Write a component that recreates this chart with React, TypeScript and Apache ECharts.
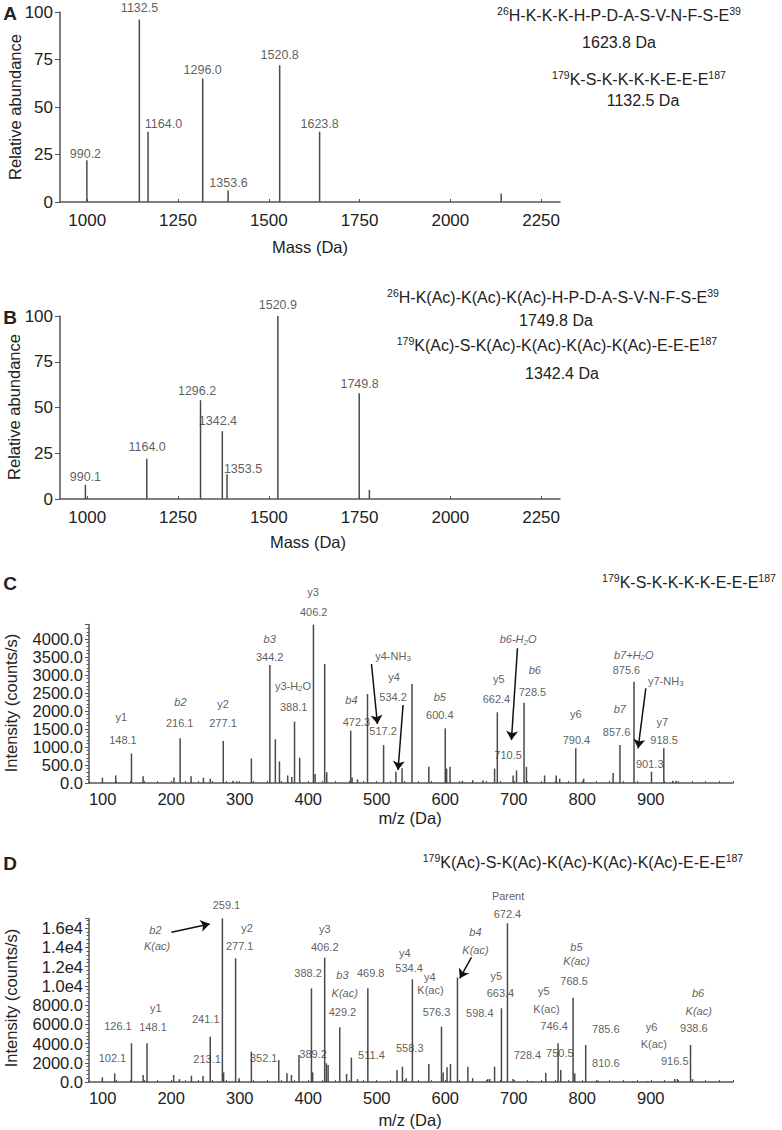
import React, { useEffect, useRef } from 'react';
import * as echarts from 'echarts';

const FONT = '"Liberation Sans", Arial, Helvetica, sans-serif';
const INK = '#222';
const PEAK = '#4a4a4a';
const AXIS = '#555';

// ---------- tick labels ----------
const massTicks = [1000, 1250, 1500, 1750, 2000, 2250];
const abundanceTicks = [0, 25, 50, 75, 100];
const mzTicks = [100, 200, 300, 400, 500, 600, 700, 800, 900];
const intensityTicksC = [0, 500, 1000, 1500, 2000, 2500, 3000, 3500, 4000];
const intensityTicksD = [0, 2000, 4000, 6000, 8000, 10000, 12000, 14000, 16000];

// ---------- Panel A (intact peptides) ----------
const massA = [999, 1143.5, 1167.5, 1318, 1388, 1530, 1640, 2140];
const abundA = [22, 96, 37, 65, 6, 72, 37, 4.5];
const labelsA: [string, number, number][] = [
  ['990.2', 995, 25.3], ['1132.5', 1144, 102], ['1164.0', 1210, 41], ['1296.0', 1318, 69.5],
  ['1353.6', 1389, 9.8], ['1520.8', 1530, 77.4], ['1623.8', 1640, 41],
];

// ---------- Panel B (acetylated) ----------
const massB = [995, 1164, 1312, 1372, 1385, 1525, 1749, 1777];
const abundB = [7.7, 22, 54, 37, 13.5, 100, 57.8, 5];
const labelsB: [string, number, number][] = [
  ['990.1', 995, 12.2], ['1164.0', 1165, 28.6], ['1296.2', 1302.5, 59], ['1342.4', 1360, 42.4],
  ['1353.5', 1429, 16.2], ['1520.9', 1525, 106], ['1749.8', 1750, 62.7],
];

// ---------- Panel C (MS/MS unmodified) ----------
const mzC = [99.6, 119, 142, 159, 204, 213, 229, 247, 257, 276, 290, 296, 317, 344, 352, 358, 370, 376, 380, 387.5,
  407.6, 410, 424, 427, 462, 464, 472, 486.5, 510, 528, 537, 551.5, 576, 600, 602, 607, 625, 640, 655, 672, 676,
  699, 704, 715, 718.5, 745, 762, 767, 790.5, 802, 845, 855, 875.5, 901, 919, 932, 937];
const intC = [150, 210, 820, 185, 150, 1240, 185, 150, 120, 1167, 60, 50, 680, 3278, 1213, 600, 210, 165, 1704, 700,
  4400, 250, 3306, 300, 1454, 150, 100, 2472, 1055, 315, 410, 2750, 450, 1519, 400, 450, 60, 80, 70, 400, 1964,
  210, 350, 2231, 450, 210, 210, 120, 963, 120, 280, 1055, 2815, 315, 963, 60, 60];
// [text, m/z, intensity, italic]
const labelsC: [string, number, number, number?][] = [
  ['y1', 127.3, 1842], ['148.1', 129.6, 1195], ['b2', 213.4, 2259, 1], ['216.1', 212.4, 1675],
  ['y2', 275.6, 2195], ['277.1', 275.6, 1675], ['b3', 343.8, 3992, 1], ['344.2', 343.8, 3492],
  ['y3-H{s|2}O', 377.8, 2695], ['388.1', 378.8, 2120], ['y3', 407, 5298], ['406.2', 408, 4742],
  ['b4', 463, 2306, 1], ['472.3', 470.4, 1686], ['y4-NH{s|3}', 523.8, 3536], ['517.2', 509.2, 1445],
  ['y4', 525.3, 2953], ['534.2', 523.8, 2381], ['b5', 592, 2381, 1], ['600.4', 592, 1881],
  ['b6-H{si|2}O', 706.3, 4000, 1], ['y5', 678.1, 2897], ['662.4', 674.7, 2342], ['b6', 730.7, 3139, 1],
  ['728.5', 727.3, 2536], ['710.5', 691.7, 778], ['b7+H{si|2}O', 875.2, 3556, 1], ['875.6', 864.5, 3139],
  ['y7-NH{s|3}', 921.9, 2842], ['y6', 790.5, 1917], ['790.4', 791.5, 1195], ['b7', 854.7, 2056, 1],
  ['857.6', 850, 1425], ['y7', 917, 1703], ['918.5', 919.4, 1195], ['901.3', 898.5, 528],
];
const arrowsC: [number, number, number, number][] = [
  [492.3, 3306, 501, 1639], [538.4, 2167, 531.1, 361], [705.4, 3742, 696.6, 1195], [892.7, 2631, 881.5, 964],
];

// ---------- Panel D (MS/MS acetylated) ----------
const mzD = [99.5, 117.5, 142, 159, 164.7, 203.6, 212, 229.5, 246.5, 257, 274.7, 276.5, 294, 299, 317, 357, 369,
  375.5, 386.5, 404.7, 406.5, 424, 426.5, 429, 446, 456, 463, 472, 487, 529.6, 537.5, 543, 552, 576, 594.5, 597,
  602.6, 607.6, 617.8, 633, 640, 662, 665, 672, 682, 690.8, 699, 727, 746.7, 764.7, 768.6, 786.6, 789, 805, 823,
  874, 895, 935, 939, 958, 961];
const intD = [490, 900, 4020, 730, 4020, 730, 300, 655, 620, 4710, 17000, 1000, 12850, 400, 3150, 2290, 900, 730,
  2800, 9730, 1000, 12920, 1940, 1770, 5680, 830, 2530, 300, 9730, 1250, 1590, 400, 10670, 1870, 5750, 1000, 1530,
  1870, 10840, 1590, 400, 300, 300, 1590, 7660, 16490, 300, 100, 970, 4020, 1250, 8760, 900, 3840, 150, 100, 100,
  300, 300, 3840, 300];
const labelsD: [string, number, number, number?][] = [
  ['259.1', 280.6, 18390], ['b2', 176.9, 15793, 1], ['K(ac)', 179.3, 14161, 1], ['y2', 310.7, 15969],
  ['277.1', 300, 14161], ['y3', 424.1, 15866], ['406.2', 424.1, 14058], ['388.2', 399.7, 11356],
  ['b3', 449.9, 11117, 1], ['K(ac)', 453.3, 9278, 1], ['429.2', 449.9, 7304], ['469.8', 491.2, 11294],
  ['y1', 177.4, 7657], ['126.1', 122.3, 5850], ['148.1', 173.4, 5746], ['241.1', 250.4, 6546],
  ['102.1', 114.2, 2525], ['213.1', 252.3, 2359], ['352.1', 335, 2525], ['389.2', 407, 2878],
  ['511.4', 492.3, 2805], ['Parent', 691.7, 19325], ['672.4', 690.8, 17455], ['b4', 644.1, 15554, 1],
  ['K(ac)', 644.1, 13715, 1], ['y4', 540.9, 13434], ['534.4', 547.2, 11813], ['y4', 577.4, 10941],
  ['K(ac)', 578.4, 9559], ['576.3', 587.2, 7304], ['558.3', 548.2, 3501], ['y5', 674.7, 11045],
  ['663.4', 680.6, 9278], ['598.4', 650.4, 7138], ['y5', 743.8, 9455], ['K(ac)', 747.7, 7553],
  ['746.4', 758.8, 5818], ['728.4', 720, 2805], ['750.5', 767.2, 2982], ['b5', 791.5, 14058, 1],
  ['K(ac)', 791.5, 12572, 1], ['768.5', 788, 10525], ['785.6', 834.3, 5475], ['810.6', 834.3, 1943],
  ['y6', 901, 5746], ['K(ac)', 904.4, 3948], ['916.5', 935, 2182], ['b6', 969, 9216, 1],
  ['K(ac)', 970, 7408, 1], ['938.6', 962.8, 5579],
];
const arrowsD: [number, number, number, number][] = [
  [200.3, 15554, 256.2, 16416], [638.2, 12956, 621.2, 10774],
];

function buildOption(): any {
  const grids = [
    { left: 60, top: 12, width: 500, height: 190 },
    { left: 60, top: 316, width: 500, height: 183 },
    { left: 89, top: 624.6, width: 644, height: 158.4 },
    { left: 89, top: 918.4, width: 644, height: 163.6 },
  ];
  const axisLine = { lineStyle: { color: AXIS, width: 1.5 } };
  const tickStyle = { color: AXIS, width: 1 };

  const massAxis = (i: number) => ({
    type: 'value', gridIndex: i, min: 925, max: 2302,
    axisLine, splitLine: { show: false },
    axisTick: { customValues: massTicks, inside: true, length: 3, lineStyle: tickStyle },
    axisLabel: {
      customValues: massTicks, fontSize: 17, color: INK, fontFamily: FONT, margin: 10,
      formatter: (v: number) => String(v),
    },
  });
  const mzAxis = (i: number) => ({
    type: 'value', gridIndex: i, min: 80, max: 1020, interval: 20,
    axisLine, splitLine: { show: false },
    axisTick: { inside: true, length: 2, lineStyle: tickStyle },
    axisLabel: {
      customValues: mzTicks, fontSize: 16.5, color: INK, fontFamily: FONT, margin: 7,
      formatter: (v: number) => String(v),
    },
  });
  const abundAxis = (i: number) => ({
    type: 'value', gridIndex: i, min: 0, max: 100, interval: 25,
    axisLine: { show: true, ...axisLine }, splitLine: { show: false },
    axisTick: { show: true, length: 5, lineStyle: tickStyle },
    axisLabel: { customValues: abundanceTicks, fontSize: 17, color: INK, fontFamily: FONT, margin: 7 },
  });
  const intAxis = (i: number, max: number, interval: number, ticks: number[]) => ({
    type: 'value', gridIndex: i, min: 0, max, interval,
    axisLine: { show: true, ...axisLine }, splitLine: { show: false },
    axisTick: { show: true, length: 4, lineStyle: tickStyle },
    minorTick: { show: true, splitNumber: 5, length: 2.5, lineStyle: { color: AXIS, width: 1 } },
    axisLabel: {
      customValues: ticks, fontSize: 16.5, color: INK, fontFamily: FONT, margin: 6,
      formatter: (v: number) => (v >= 10000 ? (v / 10000).toFixed(1) + 'e4' : v.toFixed(1)),
    },
  });

  const peaks = (i: number, xs: number[], ys: number[]) => ({
    type: 'bar', xAxisIndex: i, yAxisIndex: i, barWidth: 1.5, silent: true,
    itemStyle: { color: PEAK },
    data: xs.map((x, k) => [x, ys[k]]),
  });

  const subRich = {
    s: { fontSize: 8, verticalAlign: 'bottom', lineHeight: 9, fontFamily: FONT, color: '#333' },
    si: { fontSize: 8, verticalAlign: 'bottom', lineHeight: 9, fontFamily: FONT, color: '#333', fontStyle: 'italic' },
  };
  const notes = (i: number, list: [string, number, number, number?][], fontSize: number, arrows?: number[][]) => ({
    type: 'scatter', xAxisIndex: i, yAxisIndex: i, symbolSize: 0, clip: false, silent: true, z: 5,
    label: {
      show: true, position: 'inside', fontSize, color: '#333', fontFamily: FONT, lineHeight: 14, rich: subRich,
    },
    data: list.map(([t, x, y, it]) => ({
      value: [x, y],
      label: { formatter: t, fontStyle: it ? 'italic' : 'normal' },
    })),
    markLine: arrows
      ? {
          silent: true, symbol: ['none', 'arrow'], symbolSize: 9, animation: false,
          label: { show: false }, lineStyle: { color: '#111', width: 1.5, type: 'solid' },
          itemStyle: { color: '#111' },
          data: arrows.map(([x1, y1, x2, y2]) => [{ coord: [x1, y1] }, { coord: [x2, y2] }]),
        }
      : undefined,
  });

  const supRich = (fs: number) => ({
    sup: { fontSize: fs * 0.66, verticalAlign: 'top', lineHeight: fs * 0.7, fontFamily: FONT, fill: INK },
  });
  const text = (x: number, y: number, t: string, fontSize: number, extra: any = {}) => ({
    type: 'text', x, y, silent: true, ...extra,
    style: {
      text: t, fontSize, fontFamily: FONT, fill: INK, align: 'center', verticalAlign: 'middle',
      lineHeight: fontSize * 1.15, rich: supRich(fontSize), ...(extra.style || {}),
    },
  });
  const vtext = (x: number, y: number, t: string) => text(x, y, t, 16.5, { rotation: Math.PI / 2 });
  const letter = (x: number, y: number, t: string) => text(x, y, t, 19, { style: { fontWeight: 'bold' } });

  return {
    animation: false,
    backgroundColor: '#fff',
    grid: grids.map((g) => ({ ...g, containLabel: false })),
    xAxis: [massAxis(0), massAxis(1), mzAxis(2), mzAxis(3)],
    yAxis: [abundAxis(0), abundAxis(1), intAxis(2, 4400, 500, intensityTicksC), intAxis(3, 17000, 2000, intensityTicksD)],
    series: [
      peaks(0, massA, abundA),
      peaks(1, massB, abundB),
      peaks(2, mzC, intC),
      peaks(3, mzD, intD),
      notes(0, labelsA, 12.5),
      notes(1, labelsB, 12.5),
      notes(2, labelsC, 11, arrowsC),
      notes(3, labelsD, 11, arrowsD),
    ],
    graphic: [
      letter(10, 13, 'A'), letter(10, 317, 'B'), letter(10, 583, 'C'), letter(10, 863, 'D'),
      vtext(15, 107, 'Relative abundance'), text(310, 247, 'Mass (Da)', 16.5),
      vtext(14, 407, 'Relative abundance'), text(308, 542, 'Mass (Da)', 16.5),
      vtext(11, 703, 'Intensity (counts/s)'), text(410, 818, 'm/z (Da)', 16.5),
      vtext(11, 998, 'Intensity (counts/s)'), text(410, 1120, 'm/z (Da)', 16.5),
      text(619, 15, '{sup|26}H-K-K-K-H-P-D-A-S-V-N-F-S-E{sup|39}', 16),
      text(619, 42, '1623.8 Da', 16),
      text(639, 79, '{sup|179}K-S-K-K-K-K-E-E-E{sup|187}', 16),
      text(643, 100, '1132.5 Da', 16),
      text(553, 297, '{sup|26}H-K(Ac)-K(Ac)-K(Ac)-H-P-D-A-S-V-N-F-S-E{sup|39}', 16),
      text(556, 320, '1749.8 Da', 16),
      text(557, 345, '{sup|179}K(Ac)-S-K(Ac)-K(Ac)-K(Ac)-K(Ac)-E-E-E{sup|187}', 16),
      text(562, 373, '1342.4 Da', 16),
      text(689, 582, '{sup|179}K-S-K-K-K-K-E-E-E{sup|187}', 16),
      text(583, 862, '{sup|179}K(Ac)-S-K(Ac)-K(Ac)-K(Ac)-K(Ac)-E-E-E{sup|187}', 16),
    ],
  };
}

export default function App() {
  const ref = useRef<HTMLDivElement>(null);
  useEffect(() => {
    if (!ref.current) return;
    const chart = echarts.init(ref.current, null, { renderer: 'svg' });
    chart.setOption(buildOption());
    return () => chart.dispose();
  }, []);
  return (
    <div
      ref={ref}
      style={{ position: 'absolute', left: 0, top: 0, width: 782, height: 1130, background: '#fff' }}
    />
  );
}
